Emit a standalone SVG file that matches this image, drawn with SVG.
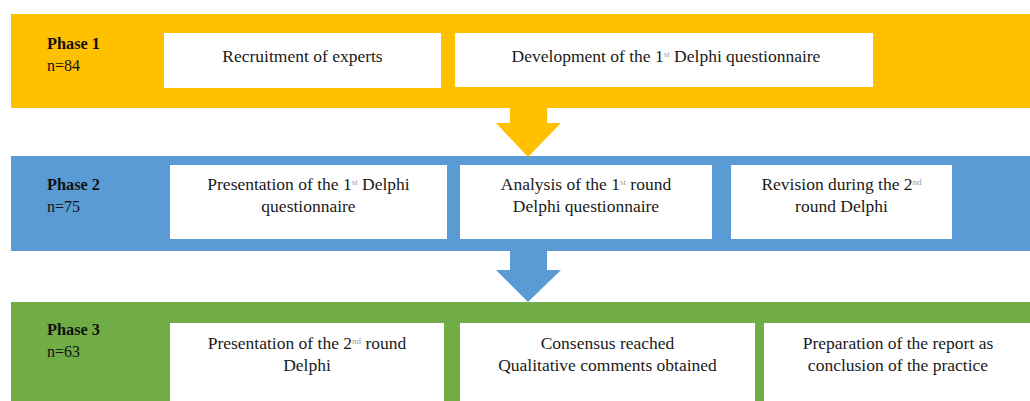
<svg xmlns="http://www.w3.org/2000/svg" width="1030" height="401" viewBox="0 0 1030 401">
<style>
.box{fill:#ffffff}
.t{font-family:"Liberation Serif",serif;font-size:17.5px;fill:#1a1a1a;text-anchor:middle}
.ph{font-family:"Liberation Serif",serif;font-size:16.3px;font-weight:bold;fill:#111}
.n{font-family:"Liberation Serif",serif;font-size:16px;fill:#111}
.sup{font-size:9px;fill:#999;baseline-shift:super}
</style>
<rect width="1030" height="401" fill="#ffffff"/>
<g id="phase1">
<rect x="11" y="14" width="1019" height="94" fill="#FFC000"/>
<text class="ph" x="47" y="49">Phase 1</text>
<text class="n" x="47" y="71">n=84</text>
</g>
<g id="phase2">
<rect x="11" y="156" width="1019" height="95" fill="#5B9BD5"/>
<text class="ph" x="47" y="190">Phase 2</text>
<text class="n" x="47" y="212">n=75</text>
</g>
<g id="phase3">
<rect x="11" y="302" width="1019" height="99" fill="#70AD47"/>
<text class="ph" x="47" y="335">Phase 3</text>
<text class="n" x="47" y="357">n=63</text>
</g>
<g id="connectors">
<polygon points="510,108 547,108 547,123 561,123 528,157 496,123 510,123" fill="#FFC000"/>
<polygon points="510,251 547,251 547,270 561,270 528,302 496,270 510,270" fill="#5B9BD5"/>
</g>
<g id="n1a">
<rect class="box" x="164" y="33" width="277" height="55"/>
<text class="t" x="302.5" y="62">Recruitment of experts</text>
</g>
<g id="n1b">
<rect class="box" x="455" y="33" width="418" height="54"/>
<text class="t" x="666" y="62">Development of the 1<tspan class="sup">st</tspan> Delphi questionnaire</text>
</g>
<g id="n2a">
<rect class="box" x="170" y="165" width="277" height="74"/>
<text class="t" x="308.5" y="190">Presentation of the 1<tspan class="sup">st</tspan> Delphi</text>
<text class="t" x="308.5" y="212">questionnaire</text>
</g>
<g id="n2b">
<rect class="box" x="460" y="165" width="252" height="74"/>
<text class="t" x="586" y="190">Analysis of the 1<tspan class="sup">st</tspan> round</text>
<text class="t" x="586" y="212">Delphi questionnaire</text>
</g>
<g id="n2c">
<rect class="box" x="731" y="165" width="221" height="74"/>
<text class="t" x="841.5" y="190">Revision during the 2<tspan class="sup">nd</tspan></text>
<text class="t" x="841.5" y="212">round Delphi</text>
</g>
<g id="n3a">
<rect class="box" x="170" y="323" width="274" height="78"/>
<text class="t" x="307" y="349">Presentation of the 2<tspan class="sup">nd</tspan> round</text>
<text class="t" x="307" y="371">Delphi</text>
</g>
<g id="n3b">
<rect class="box" x="460" y="323" width="295" height="78"/>
<text class="t" x="607.5" y="349">Consensus reached</text>
<text class="t" x="607.5" y="371">Qualitative comments obtained</text>
</g>
<g id="n3c">
<rect class="box" x="764" y="323" width="266" height="78"/>
<text class="t" x="898" y="349">Preparation of the report as</text>
<text class="t" x="898" y="371">conclusion of the practice</text>
</g>
</svg>
